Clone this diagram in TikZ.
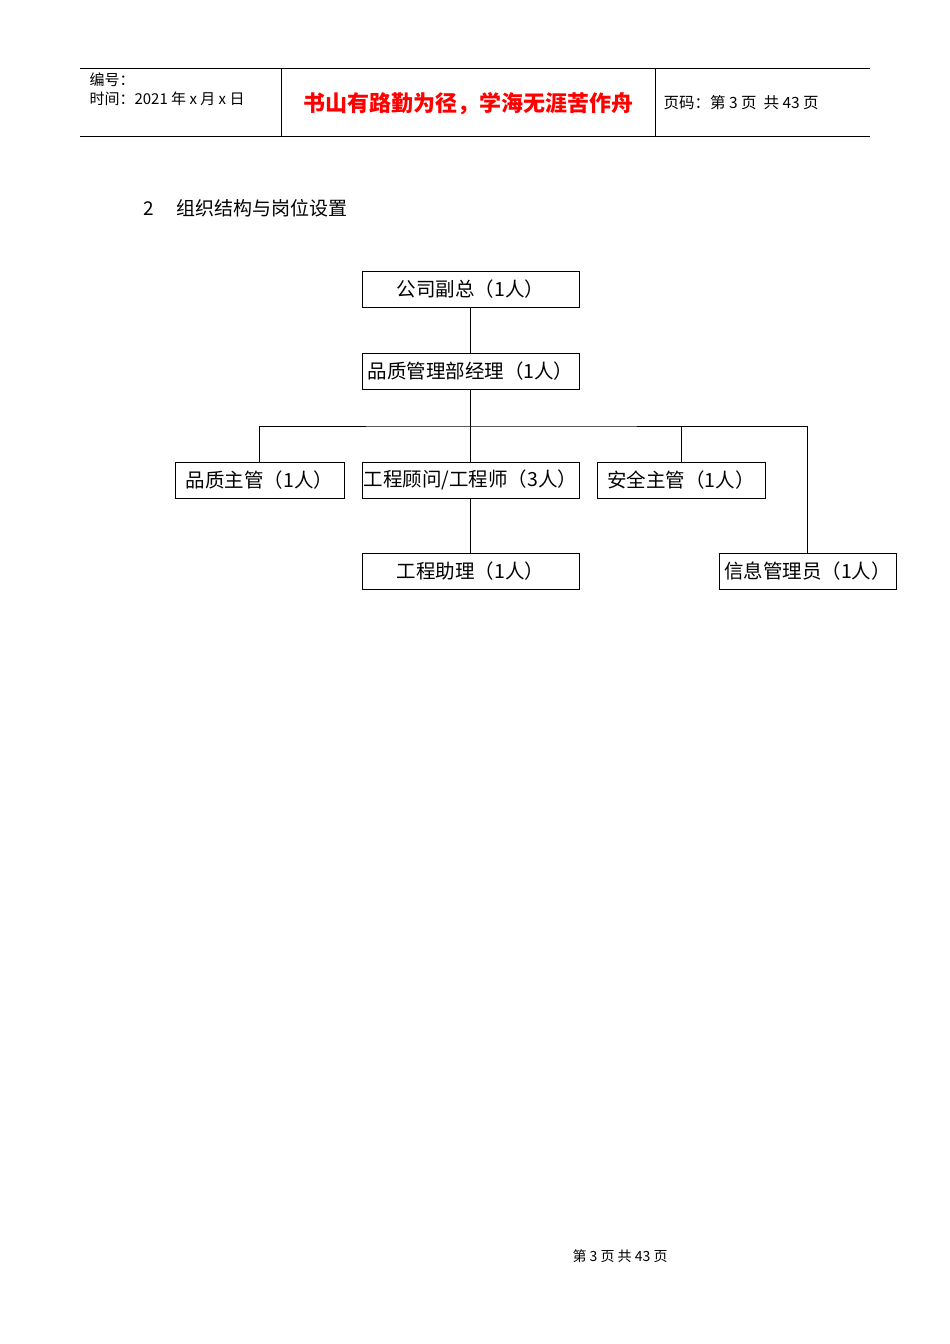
\documentclass[tikz,border=0pt]{standalone}
\usepackage{fontspec}
\setmainfont{Noto Sans CJK SC}
\begin{document}
\begin{tikzpicture}[x=1pt,y=-1pt,
  box/.style={draw,thick,minimum height=36pt,inner sep=0pt,font=\fontsize{19.5}{22}\selectfont},
  ln/.style={thick}]
\useasboundingbox (0,0) rectangle (950,1344);
\fill[white] (0,0) rectangle (950,1344);
% header
\draw (80,68) -- (870,68); \draw (80,136) -- (870,136);
\draw (281,68) -- (281,136); \draw (655,68) -- (655,136);
\node[anchor=west,font=\fontsize{15}{17}\selectfont] (h1) at (86,80) {编号：};
\node[anchor=west,font=\fontsize{15}{17}\selectfont] (h2) at (86,99) {时间：2021 年 x 月 x 日};
\node[font=\fontsize{22}{25}\selectfont\bfseries,text=red] (h3) at (468,104) {书山有路勤为径，学海无涯苦作舟};
\node[anchor=west,font=\fontsize{15.5}{17}\selectfont] (h4) at (660,103) {页码：第 3 页\ \ 共 43 页};
\node[anchor=west,font=\fontsize{19}{21}\selectfont] (t) at (140,208) {2\hspace{22pt}组织结构与岗位设置};
% boxes
\node[box,minimum width=217pt] (a) at (470.5,289) {公司副总（1人）};
\node[box,minimum width=217pt] (b) at (470.5,371) {品质管理部经理（1人）};
\node[box,minimum width=169pt] (c) at (259.5,480) {品质主管（1人）};
\node[box,minimum width=217pt] (d) at (470.5,480) {工程顾问/工程师（3人）};
\node[box,minimum width=168pt] (e) at (681,480) {安全主管（1人）};
\node[box,minimum width=217pt] (f) at (470.5,571) {工程助理（1人）};
\node[box,minimum width=177pt] (g) at (807.5,571.5) {信息管理员（1人）};
\coordinate (j) at (470,426);
\draw[ln] (a) -- (b);
\draw[ln] (b) -- (d);
\draw[ln] (d) -- (f);
\draw[ln] (c.north) |- (j) -| (g.north);
\draw[ln] (e.north) -- (e.north |- j);
% footer
\node[font=\fontsize{14}{16}\selectfont] (ft) at (620,1256) {第 3 页 共 43 页};
\end{tikzpicture}
\end{document}
